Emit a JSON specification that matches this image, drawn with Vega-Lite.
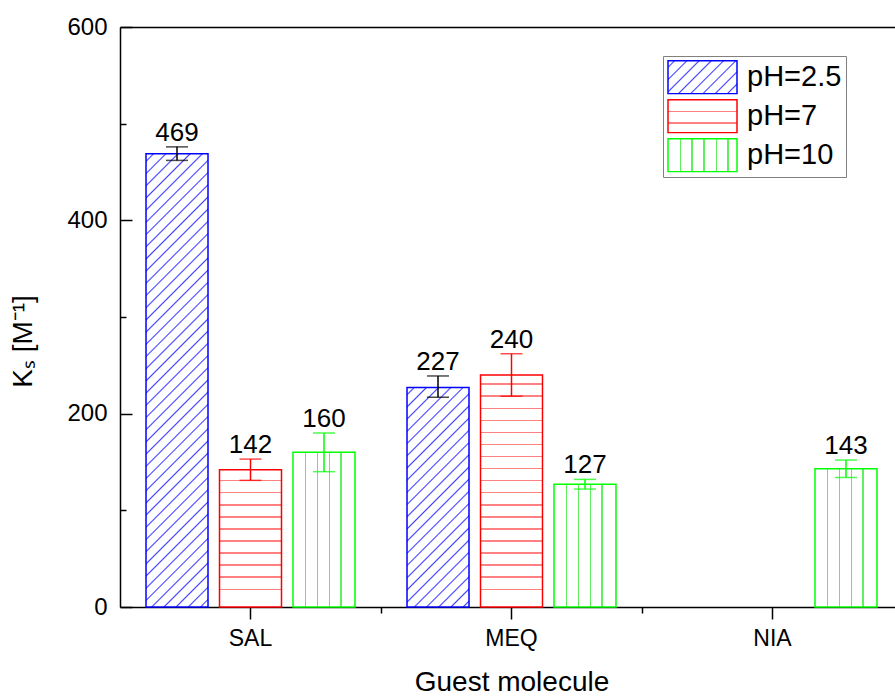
{
  "$schema": "https://vega.github.io/schema/vega-lite/v6.json",
  "autosize": {"type": "none"},
  "padding": {"left": 120, "top": 27, "right": 0, "bottom": 90},
  "width": 775,
  "height": 580,
  "data": {"values": [
    {"mol": "SAL", "pH": "pH=2.5", "Ks": 469, "lo": 462, "hi": 476},
    {"mol": "SAL", "pH": "pH=7", "Ks": 142, "lo": 131, "hi": 153},
    {"mol": "SAL", "pH": "pH=10", "Ks": 160, "lo": 140, "hi": 180},
    {"mol": "MEQ", "pH": "pH=2.5", "Ks": 227, "lo": 217, "hi": 239},
    {"mol": "MEQ", "pH": "pH=7", "Ks": 240, "lo": 218, "hi": 262},
    {"mol": "MEQ", "pH": "pH=10", "Ks": 127, "lo": 122, "hi": 132},
    {"mol": "NIA", "pH": "pH=10", "Ks": 143, "lo": 134, "hi": 152}
  ]},
  "resolve": {"axis": {"x": "independent", "y": "independent"}},
  "layer": [
    {
      "mark": {"type": "bar", "strokeWidth": 1.5},
      "encoding": {
        "x": {"field": "mol", "type": "nominal", "sort": ["SAL", "MEQ", "NIA"],
          "scale": {"domain": ["SAL", "MEQ", "NIA"], "range": [0, 783], "paddingInner": 0, "paddingOuter": 0},
          "axis": {"orient": "bottom", "title": "Guest molecule", "labelAngle": 0, "labelFontSize": 23, "tickSize": 12, "labelPadding": 8, "titleFontSize": 28, "titleFontWeight": "normal", "titlePadding": 18, "domain": true}},
        "xOffset": {"field": "pH", "type": "nominal", "scale": {"domain": ["pH=2.5", "pH=7", "pH=10"], "paddingInner": 0.1565, "paddingOuter": 0.354}},
        "y": {"field": "Ks", "type": "quantitative",
          "scale": {"domain": [0, 600], "nice": false},
          "axis": {"orient": "left", "values": [0, 200, 400, 600], "ticks": false, "labelFontSize": 24, "labelPadding": 13, "title": "Kₛ [M⁻¹]", "titleFontSize": 28, "titleFontWeight": "normal", "titlePadding": 29, "titleY": 314, "domain": true}},
        "stroke": {"field": "pH", "type": "nominal",
          "scale": {"domain": ["pH=2.5", "pH=7", "pH=10"], "range": ["#0000ff", "#ff0000", "#00ff00"]},
          "legend": {
            "orient": "none", "legendX": 543, "legendY": 29, "title": null,
            "symbolType": "M-1,-0.478H1V0.478H-1Z", "symbolSize": 4761, "symbolStrokeWidth": 1.5, "symbolOpacity": 1,
            "clipHeight": 34.5, "rowPadding": 4, "padding": 4,
            "labelFontSize": 29, "labelFont": "Liberation Sans", "labelColor": "black", "labelOffset": 9,
            "strokeColor": "#808080", "fillColor": "white",
            "symbolFillColor": {"expr": "datum.value === 'pH=2.5' ? {gradient:'linear',x1:0,y1:0,x2:1.2031,y2:0.5753,stops:[{offset:0,color:'#fff'},{offset:0.05,color:'#fff'},{offset:0.065,color:'#4040ff'},{offset:0.08,color:'#fff'},{offset:0.17,color:'#fff'},{offset:0.185,color:'#4040ff'},{offset:0.2,color:'#fff'},{offset:0.29,color:'#fff'},{offset:0.305,color:'#4040ff'},{offset:0.32,color:'#fff'},{offset:0.41,color:'#fff'},{offset:0.425,color:'#4040ff'},{offset:0.44,color:'#fff'},{offset:0.53,color:'#fff'},{offset:0.545,color:'#4040ff'},{offset:0.56,color:'#fff'},{offset:0.65,color:'#fff'},{offset:0.665,color:'#4040ff'},{offset:0.68,color:'#fff'},{offset:0.77,color:'#fff'},{offset:0.785,color:'#4040ff'},{offset:0.8,color:'#fff'},{offset:0.89,color:'#fff'},{offset:0.905,color:'#4040ff'},{offset:0.92,color:'#fff'},{offset:1,color:'#fff'}]} : datum.value === 'pH=7' ? {gradient:'linear',x1:0,y1:0,x2:0,y2:1,stops:[{offset:0,color:'#fff'},{offset:0.329,color:'#fff'},{offset:0.329,color:'#ff8080'},{offset:0.371,color:'#ff8080'},{offset:0.371,color:'#fff'},{offset:0.689,color:'#fff'},{offset:0.689,color:'#ff8080'},{offset:0.731,color:'#ff8080'},{offset:0.731,color:'#fff'},{offset:1,color:'#fff'}]} : {gradient:'linear',x1:0,y1:0,x2:1,y2:0,stops:[{offset:0,color:'#fff'},{offset:0.17,color:'#fff'},{offset:0.17,color:'#5fef5f'},{offset:0.19,color:'#5fef5f'},{offset:0.19,color:'#fff'},{offset:0.34,color:'#fff'},{offset:0.34,color:'#5fef5f'},{offset:0.36,color:'#5fef5f'},{offset:0.36,color:'#fff'},{offset:0.51,color:'#fff'},{offset:0.51,color:'#5fef5f'},{offset:0.53,color:'#5fef5f'},{offset:0.53,color:'#fff'},{offset:0.69,color:'#fff'},{offset:0.69,color:'#5fef5f'},{offset:0.71,color:'#5fef5f'},{offset:0.71,color:'#fff'},{offset:0.86,color:'#fff'},{offset:0.86,color:'#5fef5f'},{offset:0.88,color:'#5fef5f'},{offset:0.88,color:'#fff'},{offset:1,color:'#fff'}]}"}
          }},
        "fill": {"field": "Ks", "type": "nominal", "legend": null,
          "scale": {"domain": [469, 142, 160, 227, 240, 127, 143], "range": [
            {"expr": "{gradient:'linear',x1:0,y1:0,x2:0.1526,y2:1.1158,stops:[{offset:0,color:'#fff'},{offset:0.0120,color:'#fff'},{offset:0.0150,color:'#4040ff'},{offset:0.0180,color:'#fff'},{offset:0.0357,color:'#fff'},{offset:0.0387,color:'#4040ff'},{offset:0.0417,color:'#fff'},{offset:0.0593,color:'#fff'},{offset:0.0623,color:'#4040ff'},{offset:0.0653,color:'#fff'},{offset:0.0830,color:'#fff'},{offset:0.0860,color:'#4040ff'},{offset:0.0890,color:'#fff'},{offset:0.1067,color:'#fff'},{offset:0.1097,color:'#4040ff'},{offset:0.1127,color:'#fff'},{offset:0.1304,color:'#fff'},{offset:0.1334,color:'#4040ff'},{offset:0.1364,color:'#fff'},{offset:0.1540,color:'#fff'},{offset:0.1570,color:'#4040ff'},{offset:0.1600,color:'#fff'},{offset:0.1777,color:'#fff'},{offset:0.1807,color:'#4040ff'},{offset:0.1837,color:'#fff'},{offset:0.2014,color:'#fff'},{offset:0.2044,color:'#4040ff'},{offset:0.2074,color:'#fff'},{offset:0.2250,color:'#fff'},{offset:0.2280,color:'#4040ff'},{offset:0.2310,color:'#fff'},{offset:0.2487,color:'#fff'},{offset:0.2517,color:'#4040ff'},{offset:0.2547,color:'#fff'},{offset:0.2724,color:'#fff'},{offset:0.2754,color:'#4040ff'},{offset:0.2784,color:'#fff'},{offset:0.2960,color:'#fff'},{offset:0.2990,color:'#4040ff'},{offset:0.3020,color:'#fff'},{offset:0.3197,color:'#fff'},{offset:0.3227,color:'#4040ff'},{offset:0.3257,color:'#fff'},{offset:0.3434,color:'#fff'},{offset:0.3464,color:'#4040ff'},{offset:0.3494,color:'#fff'},{offset:0.3671,color:'#fff'},{offset:0.3701,color:'#4040ff'},{offset:0.3731,color:'#fff'},{offset:0.3907,color:'#fff'},{offset:0.3937,color:'#4040ff'},{offset:0.3967,color:'#fff'},{offset:0.4144,color:'#fff'},{offset:0.4174,color:'#4040ff'},{offset:0.4204,color:'#fff'},{offset:0.4381,color:'#fff'},{offset:0.4411,color:'#4040ff'},{offset:0.4441,color:'#fff'},{offset:0.4617,color:'#fff'},{offset:0.4647,color:'#4040ff'},{offset:0.4677,color:'#fff'},{offset:0.4854,color:'#fff'},{offset:0.4884,color:'#4040ff'},{offset:0.4914,color:'#fff'},{offset:0.5091,color:'#fff'},{offset:0.5121,color:'#4040ff'},{offset:0.5151,color:'#fff'},{offset:0.5327,color:'#fff'},{offset:0.5357,color:'#4040ff'},{offset:0.5387,color:'#fff'},{offset:0.5564,color:'#fff'},{offset:0.5594,color:'#4040ff'},{offset:0.5624,color:'#fff'},{offset:0.5801,color:'#fff'},{offset:0.5831,color:'#4040ff'},{offset:0.5861,color:'#fff'},{offset:0.6038,color:'#fff'},{offset:0.6068,color:'#4040ff'},{offset:0.6098,color:'#fff'},{offset:0.6274,color:'#fff'},{offset:0.6304,color:'#4040ff'},{offset:0.6334,color:'#fff'},{offset:0.6511,color:'#fff'},{offset:0.6541,color:'#4040ff'},{offset:0.6571,color:'#fff'},{offset:0.6748,color:'#fff'},{offset:0.6778,color:'#4040ff'},{offset:0.6808,color:'#fff'},{offset:0.6984,color:'#fff'},{offset:0.7014,color:'#4040ff'},{offset:0.7044,color:'#fff'},{offset:0.7221,color:'#fff'},{offset:0.7251,color:'#4040ff'},{offset:0.7281,color:'#fff'},{offset:0.7458,color:'#fff'},{offset:0.7488,color:'#4040ff'},{offset:0.7518,color:'#fff'},{offset:0.7694,color:'#fff'},{offset:0.7724,color:'#4040ff'},{offset:0.7754,color:'#fff'},{offset:0.7931,color:'#fff'},{offset:0.7961,color:'#4040ff'},{offset:0.7991,color:'#fff'},{offset:0.8168,color:'#fff'},{offset:0.8198,color:'#4040ff'},{offset:0.8228,color:'#fff'},{offset:0.8405,color:'#fff'},{offset:0.8435,color:'#4040ff'},{offset:0.8465,color:'#fff'},{offset:0.8641,color:'#fff'},{offset:0.8671,color:'#4040ff'},{offset:0.8701,color:'#fff'},{offset:0.8878,color:'#fff'},{offset:0.8908,color:'#4040ff'},{offset:0.8938,color:'#fff'},{offset:0.9115,color:'#fff'},{offset:0.9145,color:'#4040ff'},{offset:0.9175,color:'#fff'},{offset:0.9351,color:'#fff'},{offset:0.9381,color:'#4040ff'},{offset:0.9411,color:'#fff'},{offset:0.9588,color:'#fff'},{offset:0.9618,color:'#4040ff'},{offset:0.9648,color:'#fff'},{offset:0.9825,color:'#fff'},{offset:0.9855,color:'#4040ff'},{offset:0.9885,color:'#fff'},{offset:1,color:'#fff'}]}"},
            {"expr": "{gradient:'linear',x1:0,y1:0,x2:0,y2:1,stops:[{offset:0,color:'#fff'},{offset:0.0744,color:'#fff'},{offset:0.0744,color:'#ff8080'},{offset:0.0854,color:'#ff8080'},{offset:0.0854,color:'#fff'},{offset:0.1618,color:'#fff'},{offset:0.1618,color:'#ff8080'},{offset:0.1728,color:'#ff8080'},{offset:0.1728,color:'#fff'},{offset:0.2500,color:'#fff'},{offset:0.2500,color:'#ff8080'},{offset:0.2610,color:'#ff8080'},{offset:0.2610,color:'#fff'},{offset:0.3381,color:'#fff'},{offset:0.3381,color:'#ff8080'},{offset:0.3491,color:'#ff8080'},{offset:0.3491,color:'#fff'},{offset:0.4259,color:'#fff'},{offset:0.4259,color:'#ff8080'},{offset:0.4369,color:'#ff8080'},{offset:0.4369,color:'#fff'},{offset:0.5137,color:'#fff'},{offset:0.5137,color:'#ff8080'},{offset:0.5247,color:'#ff8080'},{offset:0.5247,color:'#fff'},{offset:0.6018,color:'#fff'},{offset:0.6018,color:'#ff8080'},{offset:0.6128,color:'#ff8080'},{offset:0.6128,color:'#fff'},{offset:0.6900,color:'#fff'},{offset:0.6900,color:'#ff8080'},{offset:0.7010,color:'#ff8080'},{offset:0.7010,color:'#fff'},{offset:0.7775,color:'#fff'},{offset:0.7775,color:'#ff8080'},{offset:0.7885,color:'#ff8080'},{offset:0.7885,color:'#fff'},{offset:0.8655,color:'#fff'},{offset:0.8655,color:'#ff8080'},{offset:0.8765,color:'#ff8080'},{offset:0.8765,color:'#fff'},{offset:1,color:'#fff'}]}"},
            {"expr": "{gradient:'linear',x1:0,y1:0,x2:1,y2:0,stops:[{offset:0,color:'#fff'},{offset:0.193,color:'#fff'},{offset:0.193,color:'#5fef5f'},{offset:0.215,color:'#5fef5f'},{offset:0.215,color:'#fff'},{offset:0.381,color:'#fff'},{offset:0.381,color:'#5fef5f'},{offset:0.403,color:'#5fef5f'},{offset:0.403,color:'#fff'},{offset:0.574,color:'#fff'},{offset:0.574,color:'#5fef5f'},{offset:0.596,color:'#5fef5f'},{offset:0.596,color:'#fff'},{offset:0.763,color:'#fff'},{offset:0.763,color:'#5fef5f'},{offset:0.785,color:'#5fef5f'},{offset:0.785,color:'#fff'},{offset:1,color:'#fff'}]}"},
            {"expr": "{gradient:'linear',x1:0,y1:0,x2:0.3356,y2:1.1877,stops:[{offset:0,color:'#fff'},{offset:0.0200,color:'#fff'},{offset:0.0255,color:'#4040ff'},{offset:0.0310,color:'#fff'},{offset:0.0634,color:'#fff'},{offset:0.0689,color:'#4040ff'},{offset:0.0744,color:'#fff'},{offset:0.1067,color:'#fff'},{offset:0.1122,color:'#4040ff'},{offset:0.1177,color:'#fff'},{offset:0.1501,color:'#fff'},{offset:0.1556,color:'#4040ff'},{offset:0.1611,color:'#fff'},{offset:0.1934,color:'#fff'},{offset:0.1989,color:'#4040ff'},{offset:0.2044,color:'#fff'},{offset:0.2368,color:'#fff'},{offset:0.2423,color:'#4040ff'},{offset:0.2478,color:'#fff'},{offset:0.2801,color:'#fff'},{offset:0.2856,color:'#4040ff'},{offset:0.2911,color:'#fff'},{offset:0.3235,color:'#fff'},{offset:0.3290,color:'#4040ff'},{offset:0.3345,color:'#fff'},{offset:0.3668,color:'#fff'},{offset:0.3723,color:'#4040ff'},{offset:0.3778,color:'#fff'},{offset:0.4102,color:'#fff'},{offset:0.4157,color:'#4040ff'},{offset:0.4212,color:'#fff'},{offset:0.4535,color:'#fff'},{offset:0.4590,color:'#4040ff'},{offset:0.4645,color:'#fff'},{offset:0.4969,color:'#fff'},{offset:0.5024,color:'#4040ff'},{offset:0.5079,color:'#fff'},{offset:0.5402,color:'#fff'},{offset:0.5457,color:'#4040ff'},{offset:0.5512,color:'#fff'},{offset:0.5836,color:'#fff'},{offset:0.5891,color:'#4040ff'},{offset:0.5946,color:'#fff'},{offset:0.6269,color:'#fff'},{offset:0.6324,color:'#4040ff'},{offset:0.6379,color:'#fff'},{offset:0.6703,color:'#fff'},{offset:0.6758,color:'#4040ff'},{offset:0.6813,color:'#fff'},{offset:0.7136,color:'#fff'},{offset:0.7191,color:'#4040ff'},{offset:0.7246,color:'#fff'},{offset:0.7570,color:'#fff'},{offset:0.7625,color:'#4040ff'},{offset:0.7680,color:'#fff'},{offset:0.8003,color:'#fff'},{offset:0.8058,color:'#4040ff'},{offset:0.8113,color:'#fff'},{offset:0.8437,color:'#fff'},{offset:0.8492,color:'#4040ff'},{offset:0.8547,color:'#fff'},{offset:0.8870,color:'#fff'},{offset:0.8925,color:'#4040ff'},{offset:0.8980,color:'#fff'},{offset:0.9304,color:'#fff'},{offset:0.9359,color:'#4040ff'},{offset:0.9414,color:'#fff'},{offset:0.9737,color:'#fff'},{offset:0.9792,color:'#4040ff'},{offset:0.9847,color:'#fff'},{offset:1,color:'#fff'}]}"},
            {"expr": "{gradient:'linear',x1:0,y1:0,x2:0,y2:1,stops:[{offset:0,color:'#fff'},{offset:0.0361,color:'#fff'},{offset:0.0361,color:'#ff8080'},{offset:0.0425,color:'#ff8080'},{offset:0.0425,color:'#fff'},{offset:0.0881,color:'#fff'},{offset:0.0881,color:'#ff8080'},{offset:0.0945,color:'#ff8080'},{offset:0.0945,color:'#fff'},{offset:0.1401,color:'#fff'},{offset:0.1401,color:'#ff8080'},{offset:0.1465,color:'#ff8080'},{offset:0.1465,color:'#fff'},{offset:0.1921,color:'#fff'},{offset:0.1921,color:'#ff8080'},{offset:0.1985,color:'#ff8080'},{offset:0.1985,color:'#fff'},{offset:0.2442,color:'#fff'},{offset:0.2442,color:'#ff8080'},{offset:0.2506,color:'#ff8080'},{offset:0.2506,color:'#fff'},{offset:0.2962,color:'#fff'},{offset:0.2962,color:'#ff8080'},{offset:0.3026,color:'#ff8080'},{offset:0.3026,color:'#fff'},{offset:0.3482,color:'#fff'},{offset:0.3482,color:'#ff8080'},{offset:0.3546,color:'#ff8080'},{offset:0.3546,color:'#fff'},{offset:0.4002,color:'#fff'},{offset:0.4002,color:'#ff8080'},{offset:0.4066,color:'#ff8080'},{offset:0.4066,color:'#fff'},{offset:0.4523,color:'#fff'},{offset:0.4523,color:'#ff8080'},{offset:0.4587,color:'#ff8080'},{offset:0.4587,color:'#fff'},{offset:0.5043,color:'#fff'},{offset:0.5043,color:'#ff8080'},{offset:0.5107,color:'#ff8080'},{offset:0.5107,color:'#fff'},{offset:0.5563,color:'#fff'},{offset:0.5563,color:'#ff8080'},{offset:0.5627,color:'#ff8080'},{offset:0.5627,color:'#fff'},{offset:0.6084,color:'#fff'},{offset:0.6084,color:'#ff8080'},{offset:0.6148,color:'#ff8080'},{offset:0.6148,color:'#fff'},{offset:0.6604,color:'#fff'},{offset:0.6604,color:'#ff8080'},{offset:0.6668,color:'#ff8080'},{offset:0.6668,color:'#fff'},{offset:0.7124,color:'#fff'},{offset:0.7124,color:'#ff8080'},{offset:0.7188,color:'#ff8080'},{offset:0.7188,color:'#fff'},{offset:0.7644,color:'#fff'},{offset:0.7644,color:'#ff8080'},{offset:0.7708,color:'#ff8080'},{offset:0.7708,color:'#fff'},{offset:0.8165,color:'#fff'},{offset:0.8165,color:'#ff8080'},{offset:0.8229,color:'#ff8080'},{offset:0.8229,color:'#fff'},{offset:0.8685,color:'#fff'},{offset:0.8685,color:'#ff8080'},{offset:0.8749,color:'#ff8080'},{offset:0.8749,color:'#fff'},{offset:0.9205,color:'#fff'},{offset:0.9205,color:'#ff8080'},{offset:0.9269,color:'#ff8080'},{offset:0.9269,color:'#fff'},{offset:1,color:'#fff'}]}"},
            {"expr": "{gradient:'linear',x1:0,y1:0,x2:1,y2:0,stops:[{offset:0,color:'#fff'},{offset:0.193,color:'#fff'},{offset:0.193,color:'#5fef5f'},{offset:0.215,color:'#5fef5f'},{offset:0.215,color:'#fff'},{offset:0.381,color:'#fff'},{offset:0.381,color:'#5fef5f'},{offset:0.403,color:'#5fef5f'},{offset:0.403,color:'#fff'},{offset:0.574,color:'#fff'},{offset:0.574,color:'#5fef5f'},{offset:0.596,color:'#5fef5f'},{offset:0.596,color:'#fff'},{offset:0.763,color:'#fff'},{offset:0.763,color:'#5fef5f'},{offset:0.785,color:'#5fef5f'},{offset:0.785,color:'#fff'},{offset:1,color:'#fff'}]}"},
            {"expr": "{gradient:'linear',x1:0,y1:0,x2:1,y2:0,stops:[{offset:0,color:'#fff'},{offset:0.193,color:'#fff'},{offset:0.193,color:'#5fef5f'},{offset:0.215,color:'#5fef5f'},{offset:0.215,color:'#fff'},{offset:0.381,color:'#fff'},{offset:0.381,color:'#5fef5f'},{offset:0.403,color:'#5fef5f'},{offset:0.403,color:'#fff'},{offset:0.574,color:'#fff'},{offset:0.574,color:'#5fef5f'},{offset:0.596,color:'#5fef5f'},{offset:0.596,color:'#fff'},{offset:0.763,color:'#fff'},{offset:0.763,color:'#5fef5f'},{offset:0.785,color:'#5fef5f'},{offset:0.785,color:'#fff'},{offset:1,color:'#fff'}]}"}
          ]}
        }
      }
    },
    {
      "mark": {"type": "rule", "strokeWidth": 1.5},
      "encoding": {
        "x": {"field": "mol", "type": "nominal", "sort": ["SAL", "MEQ", "NIA"],
          "axis": {"orient": "bottom", "bandPosition": 0, "values": ["MEQ", "NIA"], "tickSize": 6, "labels": false, "domain": false, "title": null}},
        "xOffset": {"field": "pH", "type": "nominal"},
        "y": {"field": "lo", "type": "quantitative",
          "axis": {"orient": "left", "values": [0, 200, 400, 600], "tickSize": -12, "labels": false, "domain": false, "title": null}},
        "y2": {"field": "hi"},
        "stroke": {"condition": [{"test": "datum.pH === 'pH=2.5'", "value": "#000000"}, {"test": "datum.pH === 'pH=7'", "value": "#ff0000"}], "value": "#00ff00"}
      }
    },
    {
      "mark": {"type": "tick", "orient": "horizontal", "size": 22, "thickness": 1.5},
      "encoding": {
        "x": {"field": "mol", "type": "nominal", "sort": ["SAL", "MEQ", "NIA"],
          "axis": {"orient": "top", "ticks": false, "labels": false, "domain": true, "title": null}},
        "xOffset": {"field": "pH", "type": "nominal"},
        "y": {"field": "lo", "type": "quantitative",
          "axis": {"orient": "left", "values": [100, 300, 500], "tickSize": -6, "labels": false, "domain": false, "title": null}},
        "color": {"condition": [{"test": "datum.pH === 'pH=2.5'", "value": "#000000"}, {"test": "datum.pH === 'pH=7'", "value": "#ff0000"}], "value": "#00ff00"}
      }
    },
    {
      "mark": {"type": "tick", "orient": "horizontal", "size": 22, "thickness": 1.5},
      "encoding": {
        "x": {"field": "mol", "type": "nominal", "sort": ["SAL", "MEQ", "NIA"], "axis": null},
        "xOffset": {"field": "pH", "type": "nominal"},
        "y": {"field": "hi", "type": "quantitative", "axis": null},
        "color": {"condition": [{"test": "datum.pH === 'pH=2.5'", "value": "#000000"}, {"test": "datum.pH === 'pH=7'", "value": "#ff0000"}], "value": "#00ff00"}
      }
    },
    {
      "mark": {"type": "text", "dy": -6, "baseline": "alphabetic", "fontSize": 26, "font": "Liberation Sans", "color": "#000000"},
      "encoding": {
        "x": {"field": "mol", "type": "nominal", "sort": ["SAL", "MEQ", "NIA"], "axis": null},
        "xOffset": {"field": "pH", "type": "nominal"},
        "y": {"field": "hi", "type": "quantitative", "axis": null},
        "text": {"field": "Ks", "type": "quantitative"}
      }
    }
  ],
  "config": {
    "view": {"stroke": null},
    "axis": {"grid": false, "domainColor": "#000000", "tickColor": "#000000", "labelColor": "#000000", "titleColor": "#000000", "labelFont": "Liberation Sans", "titleFont": "Liberation Sans", "domainWidth": 1.5, "tickWidth": 1.5}
  }
}
